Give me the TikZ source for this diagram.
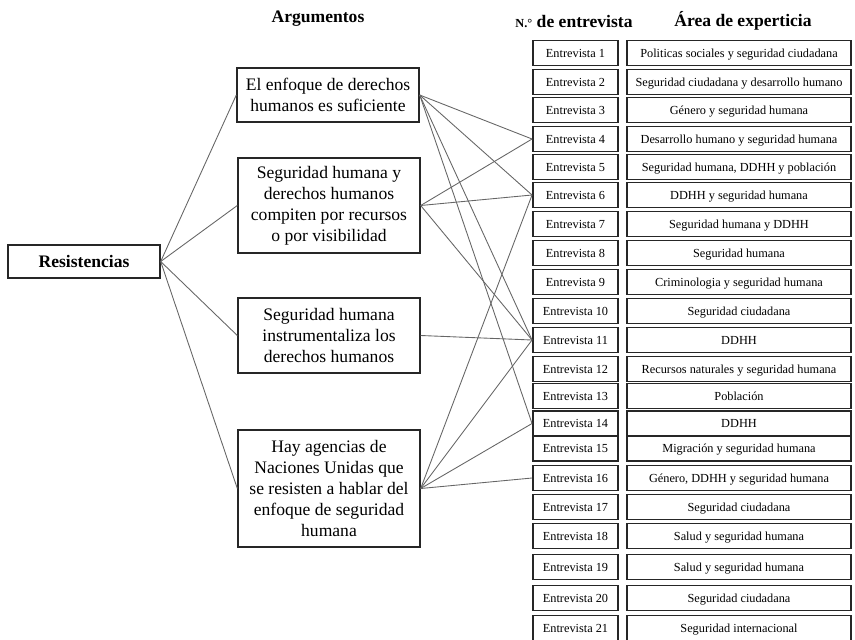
\documentclass[tikz,border=0pt]{standalone}
\usepackage{fontspec}
\setmainfont{Liberation Serif}
\newcommand{\cellh}{0.5cm}
\newcommand{\idw}{1.7cm}
\newcommand{\areaw}{4.48cm}
\newcommand{\argw}{3.64cm}
\tikzset{
  argbox/.style={draw=black!85, line width=0.8pt, align=center,
    minimum width=\argw, inner sep=2pt,
    font=\fontsize{10}{12}\selectfont},
  rootbox/.style={draw=black!85, line width=0.8pt, minimum width=3.04cm,
    minimum height=0.66cm, font=\fontsize{10}{12}\selectfont\bfseries},
  idbox/.style={draw=black!85, line width=1.1pt, minimum width=\idw,
    minimum height=\cellh, inner sep=0pt, text height=1.55ex,
    text depth=0.45ex, font=\fontsize{7}{8}\selectfont},
  areabox/.style={idbox, minimum width=\areaw},
  headtxt/.style={font=\fontsize{10}{12}\selectfont\bfseries},
  link/.style={draw=black!60, line width=0.5pt}
}
\begin{document}
\begin{tikzpicture}[x=0.02cm,y=-0.02cm]
  \useasboundingbox (0,0) rectangle (855,639);

  % headers
  \node[headtxt] (hArg) at (318,19) {Argumentos};
  \node[headtxt] (hNum) at (574,21)
    {{\fontsize{7}{8}\selectfont N.\textdegree} de entrevista};
  \node[headtxt] (hArea) at (743,21) {Área de experticia};

  % left side
  \node[rootbox] (res) at (84,261.5) {Resistencias};
  \node[argbox, minimum height=1.08cm] (argA) at (328,95)
    {El enfoque de derechos\\humanos es suficiente};
  \node[argbox, minimum height=1.9cm] (argB) at (329,205.5)
    {Seguridad humana y\\derechos humanos\\compiten por recursos\\o por visibilidad};
  \node[argbox, minimum height=1.5cm] (argC) at (329,335.5)
    {Seguridad humana\\instrumentaliza los\\derechos humanos};
  \node[argbox, minimum height=2.34cm] (argD) at (329,488.5)
    {Hay agencias de\\Naciones Unidas que\\se resisten a hablar del\\enfoque de seguridad\\humana};

  % table
  \node[idbox] (e1) at (575.5,53) {Entrevista 1};
  \node[areabox] (x1) at (739,53) {Politicas sociales y seguridad ciudadana};
  \node[idbox] (e2) at (575.5,82) {Entrevista 2};
  \node[areabox] (x2) at (739,82) {Seguridad ciudadana y desarrollo humano};
  \node[idbox] (e3) at (575.5,110) {Entrevista 3};
  \node[areabox] (x3) at (739,110) {Género y seguridad humana};
  \node[idbox] (e4) at (575.5,139) {Entrevista 4};
  \node[areabox] (x4) at (739,139) {Desarrollo humano y seguridad humana};
  \node[idbox] (e5) at (575.5,167) {Entrevista 5};
  \node[areabox] (x5) at (739,167) {Seguridad humana, DDHH y población};
  \node[idbox] (e6) at (575.5,195) {Entrevista 6};
  \node[areabox] (x6) at (739,195) {DDHH y seguridad humana};
  \node[idbox] (e7) at (575.5,224) {Entrevista 7};
  \node[areabox] (x7) at (739,224) {Seguridad humana y DDHH};
  \node[idbox] (e8) at (575.5,253) {Entrevista 8};
  \node[areabox] (x8) at (739,253) {Seguridad humana};
  \node[idbox] (e9) at (575.5,282) {Entrevista 9};
  \node[areabox] (x9) at (739,282) {Criminologia y seguridad humana};
  \node[idbox] (e10) at (575.5,311) {Entrevista 10};
  \node[areabox] (x10) at (739,311) {Seguridad ciudadana};
  \node[idbox] (e11) at (575.5,340) {Entrevista 11};
  \node[areabox] (x11) at (739,340) {DDHH};
  \node[idbox] (e12) at (575.5,369) {Entrevista 12};
  \node[areabox] (x12) at (739,369) {Recursos naturales y seguridad humana};
  \node[idbox] (e13) at (575.5,396) {Entrevista 13};
  \node[areabox] (x13) at (739,396) {Población};
  \node[idbox] (e14) at (575.5,423.5) {Entrevista 14};
  \node[areabox] (x14) at (739,423.5) {DDHH};
  \node[idbox] (e15) at (575.5,448.5) {Entrevista 15};
  \node[areabox] (x15) at (739,448.5) {Migración y seguridad humana};
  \node[idbox] (e16) at (575.5,478) {Entrevista 16};
  \node[areabox] (x16) at (739,478) {Género, DDHH y seguridad humana};
  \node[idbox] (e17) at (575.5,507) {Entrevista 17};
  \node[areabox] (x17) at (739,507) {Seguridad ciudadana};
  \node[idbox] (e18) at (575.5,536) {Entrevista 18};
  \node[areabox] (x18) at (739,536) {Salud y seguridad humana};
  \node[idbox] (e19) at (575.5,567) {Entrevista 19};
  \node[areabox] (x19) at (739,567) {Salud y seguridad humana};
  \node[idbox] (e20) at (575.5,598) {Entrevista 20};
  \node[areabox] (x20) at (739,598) {Seguridad ciudadana};
  \node[idbox] (e21) at (575.5,628) {Entrevista 21};
  \node[areabox] (x21) at (739,628) {Seguridad internacional};

  % connectors
  \draw[link] (res.east) -- (argA.west);
  \draw[link] (res.east) -- (argB.west);
  \draw[link] (res.east) -- (argC.west);
  \draw[link] (res.east) -- (argD.west);
  \draw[link] (argA.east) -- (e4.west);
  \draw[link] (argA.east) -- (e6.west);
  \draw[link] (argA.east) -- (e11.west);
  \draw[link] (argA.east) -- (e14.west);
  \draw[link] (argB.east) -- (e4.west);
  \draw[link] (argB.east) -- (e6.west);
  \draw[link] (argB.east) -- (e11.west);
  \draw[link] (argC.east) -- (e11.west);
  \draw[link] (argD.east) -- (e6.west);
  \draw[link] (argD.east) -- (e11.west);
  \draw[link] (argD.east) -- (e14.west);
  \draw[link] (argD.east) -- (e16.west);
\end{tikzpicture}
\end{document}
